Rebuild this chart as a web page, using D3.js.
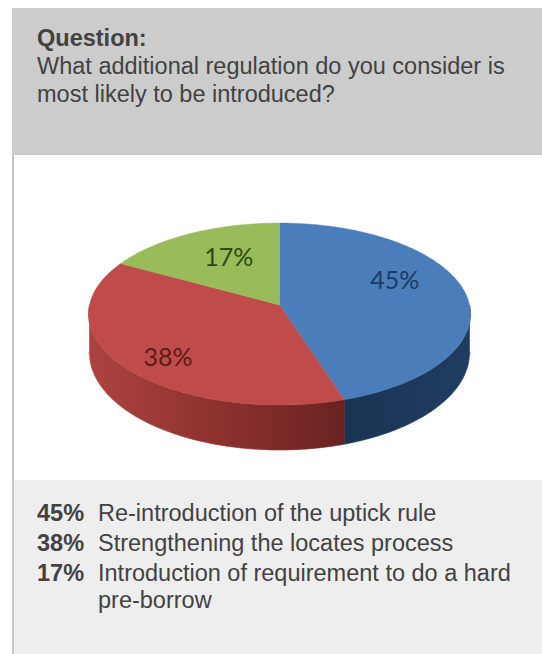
<!DOCTYPE html>
<html>
<head>
<meta charset="utf-8">
<script src="https://cdn.jsdelivr.net/npm/d3@7"></script>
<style>
html,body{margin:0;padding:0;background:#fff}
svg{display:block}
text{font-family:"Liberation Sans",Arial,sans-serif}
</style>
</head>
<body>
<svg id="chart" width="542" height="654"></svg>
<script>
// Survey results
const heading = "Question:";
const questionLines = ["What additional regulation do you consider is", "most likely to be introduced?"];
const values = [45, 38, 17];
const answers = [
  ["Re-introduction of the uptick rule"],
  ["Strengthening the locates process"],
  ["Introduction of requirement to do a hard", "pre-borrow"]
];
const topColors = ["#4a7dba", "#bf4c4a", "#9abb59"];
const labelColors = ["#1c3a63", "#5e1b19", "#2e4a12"];
const wallStops = [
  [["0%", "#1b3454"], ["100%", "#1f3c62"]],
  [["0%", "#ad4341"], ["55%", "#8a302d"], ["100%", "#682321"]],
  [["0%", "#98b954"], ["100%", "#98b954"]]
];

const svg = d3.select("#chart");

// Panels and the thin rule down the left side
svg.append("rect").attr("x", 12).attr("y", 8).attr("width", 530).attr("height", 147).attr("fill", "#cccccc");
svg.append("rect").attr("x", 12).attr("y", 480).attr("width", 530).attr("height", 174).attr("fill", "#eeeeee");
svg.append("rect").attr("x", 12).attr("y", 155).attr("width", 2).attr("height", 499).attr("fill", "#c6c6c6");

// Question text
const q = svg.append("g").attr("fill", "#424242").attr("font-size", 23.5);
q.append("text").attr("x", 37).attr("y", 46).attr("font-weight", "bold").text(heading);
q.selectAll("text.line").data(questionLines).join("text").attr("class", "line")
  .attr("x", 37).attr("y", (d, i) => 74 + i * 28).text(d => d);

// Disc seen in perspective: the hub sits above the middle of the outline,
// so the near half of the disc is drawn larger than the far half.
const cx = 279.5, hubY = 305, spreadX = 190, spreadY = 90.1, tilt = 0.0989;
// Lower edge of the side wall
const floorY = 353, floorRx = 190, floorRy = 97;

// Angle is clockwise from twelve o'clock, r is a fraction of the radius
function project(angle, r = 1) {
  const u = r * Math.sin(angle), v = -r * Math.cos(angle);
  const w = 1 - tilt * v;
  return [cx + spreadX * u / w, hubY + spreadY * v / w];
}
function floorAt(x) {
  const t = Math.min(1, Math.abs(x - cx) / floorRx);
  return floorY + floorRy * Math.sqrt(1 - t * t);
}

const pie = d3.pie().sort(null).value(d => d);
const slices = pie(values);
const outline = d3.line();

function arcPoints(a0, a1) {
  const steps = Math.max(2, Math.ceil((a1 - a0) / 0.02));
  return d3.range(steps + 1).map(i => project(a0 + (a1 - a0) * i / steps));
}

const defs = svg.append("defs");
wallStops.forEach((stops, i) => {
  const g = defs.append("linearGradient").attr("id", "wall" + i);
  stops.forEach(s => g.append("stop").attr("offset", s[0]).attr("stop-color", s[1]));
});

// Side wall: the front stretch of each slice's rim, dropped to the lower edge
function wallD(s) {
  const from = Math.max(s.startAngle, Math.PI / 2), to = Math.min(s.endAngle, Math.PI * 1.5);
  if (to <= from) return null;
  const rim = arcPoints(from, to);
  const lower = rim.map(p => [p[0], floorAt(p[0])]).reverse();
  return outline(rim.concat(lower)) + "Z";
}
const pieG = svg.append("g");
pieG.selectAll("path.wall").data(slices.filter(wallD)).join("path").attr("class", "wall")
  .attr("d", wallD)
  .attr("fill", s => `url(#wall${s.index})`)
  .attr("stroke", s => `url(#wall${s.index})`)
  .attr("stroke-width", 0.6);

// Top face of the disc
pieG.selectAll("path.top").data(slices).join("path").attr("class", "top")
  .attr("d", s => outline([[cx, hubY]].concat(arcPoints(s.startAngle, s.endAngle))) + "Z")
  .attr("fill", s => topColors[s.index])
  .attr("stroke", s => topColors[s.index])
  .attr("stroke-width", 0.4);

// Percentage labels on the disc
const labelRadius = [0.62, 0.727, 0.55];
const labelShift = [-7.4, 17, 1.5];
svg.append("g").selectAll("text").data(slices).join("text")
  .attr("transform", s => {
    const p = project((s.startAngle + s.endAngle) / 2, labelRadius[s.index]);
    return `translate(${p[0]},${p[1] + labelShift[s.index]})`;
  })
  .attr("text-anchor", "middle")
  .attr("font-size", 25)
  .style("font-family", 'Lato,"Open Sans",sans-serif')
  .attr("fill", s => labelColors[s.index])
  .text(s => s.data + "%");

// Answer list
const rowY = [521, 551, 581, 608];
const list = svg.append("g").attr("fill", "#424242").attr("font-size", 23.5);
let row = 0;
values.forEach((v, i) => {
  list.append("text").attr("x", 37).attr("y", rowY[row]).attr("font-weight", "bold").text(v + "%");
  answers[i].forEach((line, j) => {
    list.append("text").attr("x", 98).attr("y", rowY[row + j]).text(line);
  });
  row += answers[i].length;
});
</script>
</body>
</html>
